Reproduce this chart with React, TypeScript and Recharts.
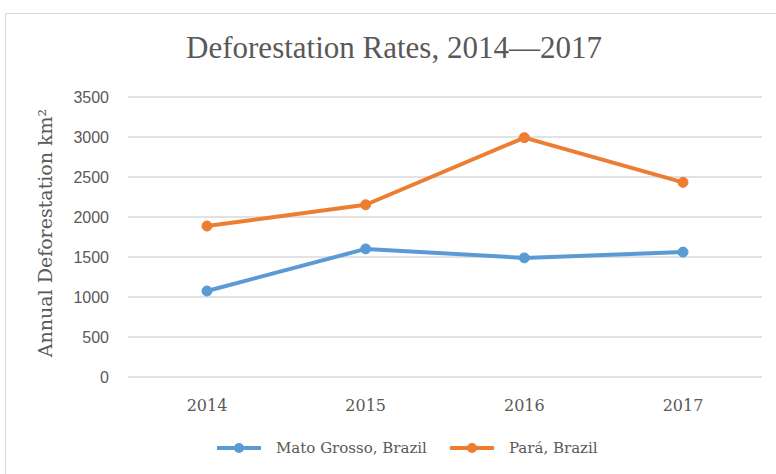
import { LineChart, Line, XAxis, YAxis, CartesianGrid } from 'recharts';

const years = ['2014', '2015', '2016', '2017'];
const matoGrosso = [1075, 1601, 1489, 1561];
const para = [1887, 2153, 2992, 2433];
const yTicks = [0, 500, 1000, 1500, 2000, 2500, 3000, 3500];
const seriesNames = ['Mato Grosso, Brazil', 'Pará, Brazil'];

const BLUE = '#5B9BD5';
const ORANGE = '#ED7D31';
const TEXT = '#595959';
const SERIF = "'DejaVu Serif', serif";

const data = years.map((year, i) => ({ year, mato: matoGrosso[i], para: para[i] }));

const series = [
  { key: 'mato', name: seriesNames[0], color: BLUE },
  { key: 'para', name: seriesNames[1], color: ORANGE },
];

function YLabel() {
  return (
    <text
      x={0}
      y={0}
      transform="translate(52, 233) rotate(-90)"
      textAnchor="middle"
      fill={TEXT}
      fontFamily={SERIF}
      fontSize={19}
    >
      Annual Deforestation km²
    </text>
  );
}

export default function App() {
  return (
    <div style={{ position: 'fixed', left: 0, top: 0, width: 776, height: 474, background: '#fff', overflow: 'hidden' }}>
      <div
        style={{
          position: 'absolute',
          left: 5,
          top: 13,
          width: 790,
          height: 480,
          border: '1px solid #d9d9d9',
        }}
      />
      <div
        style={{
          position: 'absolute',
          left: 0,
          top: 28,
          width: 788,
          textAlign: 'center',
          fontFamily: "'Liberation Serif', serif",
          fontSize: 31,
          color: TEXT,
          lineHeight: '40px',
        }}
      >
        Deforestation Rates, 2014—2017
      </div>
      <div style={{ position: 'absolute', left: 0, top: 0 }}>
        <LineChart width={776} height={474} data={data} margin={{ top: 97, right: 14, left: 0, bottom: 67 }}>
          <CartesianGrid vertical={false} stroke="#d9d9d9" strokeWidth={1.3} />
          <XAxis
            dataKey="year"
            axisLine={false}
            tickLine={false}
            tickSize={0}
            tickMargin={23}
            height={30}
            padding={{ left: 79, right: 79 }}
            tick={{ fill: TEXT, fontSize: 16, fontFamily: SERIF }}
          />
          <YAxis
            width={128}
            domain={[0, 3500]}
            ticks={yTicks}
            axisLine={false}
            tickLine={false}
            tickSize={0}
            tickMargin={19}
            tick={{ fill: TEXT, fontSize: 16, fontFamily: "'Liberation Sans', sans-serif" }}
            label={<YLabel />}
          />
          {series.map((s) => (
            <Line
              key={s.key}
              type="linear"
              dataKey={s.key}
              name={s.name}
              stroke={s.color}
              strokeWidth={4}
              strokeLinejoin="round"
              dot={{ r: 5, fill: s.color, stroke: s.color, strokeWidth: 1 }}
              activeDot={false}
              isAnimationActive={false}
            />
          ))}
        </LineChart>
      </div>
      <div
        style={{
          position: 'absolute',
          left: 217,
          top: 436,
          display: 'flex',
          alignItems: 'center',
          fontFamily: SERIF,
          fontSize: 15,
          color: TEXT,
        }}
      >
        {series.map((s, i) => (
          <div key={s.key} style={{ display: 'flex', alignItems: 'center', marginRight: i === 0 ? 23 : 0 }}>
            <svg width={44} height={14} style={{ marginRight: 15 }}>
              <line x1={1} y1={7} x2={43} y2={7} stroke={s.color} strokeWidth={4} strokeLinecap="round" />
              <circle cx={22} cy={7} r={5} fill={s.color} />
            </svg>
            <span style={{ lineHeight: '24px' }}>{s.name}</span>
          </div>
        ))}
      </div>
    </div>
  );
}
